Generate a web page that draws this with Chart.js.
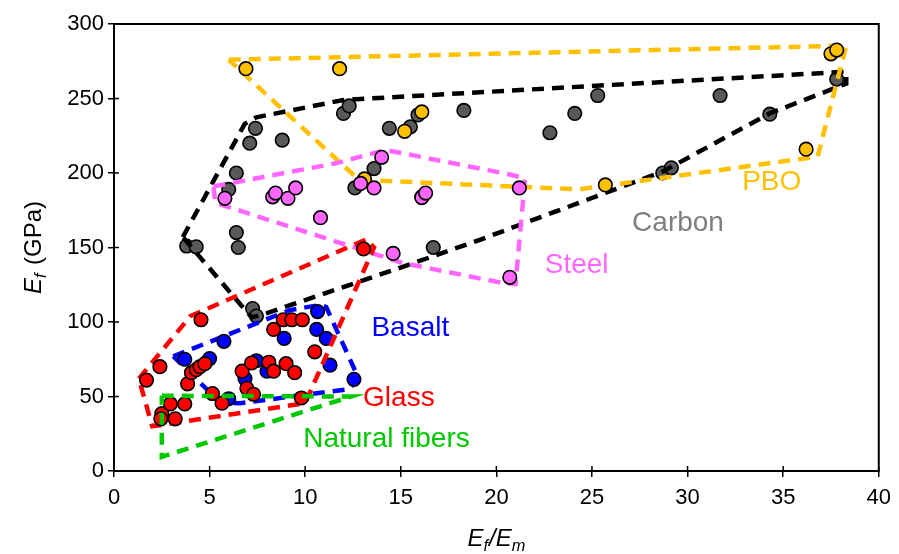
<!DOCTYPE html>
<html>
<head>
<meta charset="utf-8">
<script src="https://cdn.jsdelivr.net/npm/chart.js@4/dist/chart.umd.min.js"></script>
<style>
  html, body { margin: 0; padding: 0; background: #fff; }
</style>
</head>
<body>
<canvas id="chart" width="899" height="554"></canvas>
<script>
// measured points [Ef/Em, Ef]
const carbonPts = [[3.8,151],[4.3,150.5],[6.4,160],[6.5,150],[7.25,109],[7.45,104],[6.0,189],[6.4,200],[7.1,220],[7.4,230],[8.8,222],[12.0,240],[12.3,245],[12.6,190],[13.6,203],[14.4,230],[15.5,231],[15.9,239],[16.1,184],[16.7,150],[18.3,242],[22.8,227],[24.1,240],[25.3,252],[28.7,200],[29.15,203.5],[31.7,252],[34.3,239.5],[37.8,263]];
const pboPts = [[6.9,270],[11.8,270],[13.1,196],[15.2,228],[16.1,241],[25.7,192],[36.2,216],[37.5,280],[37.8,282.5]];
const steelPts = [[5.8,183],[8.3,184],[8.45,186.5],[9.1,183],[9.5,190],[10.8,170],[12.9,193],[13.6,190],[14.0,210.5],[16.1,183.5],[16.3,186.5],[14.6,146],[20.7,130],[21.2,190]];
const basaltPts = [[3.7,75],[5.0,75.5],[5.75,87],[6.0,48.5],[6.85,62],[7.45,74],[8.0,67],[8.9,89],[10.65,107],[10.6,95],[11.1,89],[11.3,71],[12.55,61.5]];
const glassPts = [[1.7,61],[2.4,70],[2.5,38.5],[2.45,35],[2.95,45],[3.7,45],[3.2,35],[3.85,58.5],[4.05,66],[4.3,68],[4.5,70],[4.75,72],[4.55,101.5],[5.15,52],[5.65,45.5],[6.7,67],[7.2,72.5],[6.95,55.5],[7.3,51.5],[8.1,73],[8.35,67],[9.0,72],[9.45,66],[9.8,49],[8.35,95],[8.85,101.5],[9.3,101.5],[9.85,101.5],[10.5,80],[13.05,149]];

// dashed outlines around each group
const carbonHull = [[3.6,157],[6.84,233],[7.45,237.4],[12,249],[38.3,268],[38.3,260],[34.3,240],[28.7,201],[19.1,155],[15.1,137],[8.0,106],[7.2,103],[3.6,157]];
const pboHull = [[6.0,276],[38.3,285.5],[36.8,211],[24.3,189],[12.8,195.5],[6.0,276]];
const steelHull = [[5.2,191],[11.6,206.5],[14.2,215.5],[20.7,199],[21.5,196.5],[21.0,125.5],[20.4,126],[15.1,139.6],[5.3,180],[5.2,191]];
const basaltHull = [[3.1,77],[9.2,108],[10.8,111.5],[11.1,110],[12.8,62],[12.3,55],[6.6,45.5],[5.6,46],[4.6,58],[3.1,77]];
const glassHull = [[1.3,62],[4.0,104],[13.2,155.5],[13.6,150],[10.0,45.5],[2.0,30],[1.3,62]];
const fiberHull = [[2.5,50.5],[12.4,50],[2.5,9.5],[2.5,50.5]];

// group labels inside the plot
const groupNames = ["Carbon", "PBO", "Steel", "Basalt", "Glass", "Natural fibers"];
const groupLabelX = [29.5, 34.4, 24.2, 15.5, 14.9, 14.25];
const groupLabelY = [166.5, 194, 138, 96, 49, 21];
const groupColors = ["#7f7f7f", "#ffc000", "#ff66ff", "#0000ff", "#ff0000", "#00c800"];

const toXY = (arr) => arr.map((p) => ({ x: p[0], y: p[1] }));

function pointSet(label, pts, fill, order) {
  return {
    type: "scatter",
    label: label,
    data: toXY(pts),
    backgroundColor: fill,
    borderColor: "#000",
    borderWidth: 1.6,
    pointRadius: 6.8,
    order: order,
  };
}

function hullSet(label, pts, color, order) {
  return {
    type: "line",
    label: label,
    data: toXY(pts),
    borderColor: color,
    borderWidth: 4.5,
    borderDash: [12, 8],
    pointRadius: 0,
    fill: false,
    tension: 0,
    order: order,
  };
}

const FONT = "'Liberation Sans', Arial, sans-serif";

function drawParts(ctx, parts, size) {
  let w = 0;
  for (const p of parts) {
    const fs = p.sub ? size * 0.68 : size;
    ctx.font = (p.italic ? "italic " : "") + fs + "px " + FONT;
    p.w = ctx.measureText(p.t).width + (p.gap || 0);
    w += p.w;
  }
  let cx = -w / 2;
  for (const p of parts) {
    const fs = p.sub ? size * 0.68 : size;
    ctx.font = (p.italic ? "italic " : "") + fs + "px " + FONT;
    ctx.fillText(p.t, cx, p.sub ? size * 0.22 : 0);
    cx += p.w;
  }
}

const decorations = {
  id: "decorations",
  afterDatasetsDraw(chart) {
    const { ctx, scales } = chart;
    ctx.save();
    ctx.textAlign = "center";
    ctx.textBaseline = "middle";
    ctx.font = "28px " + FONT;
    groupNames.forEach((name, i) => {
      ctx.fillStyle = groupColors[i];
      ctx.fillText(name, scales.x.getPixelForValue(groupLabelX[i]), scales.y.getPixelForValue(groupLabelY[i]));
    });
    ctx.restore();
  },
  afterDraw(chart) {
    const { ctx, chartArea: a, scales } = chart;
    ctx.save();
    ctx.strokeStyle = "#000";
    ctx.lineWidth = 2;
    ctx.strokeRect(a.left, a.top, a.right - a.left, a.bottom - a.top);

    // inner half of the crossing tick marks
    ctx.lineWidth = 1.5;
    ctx.beginPath();
    scales.x.ticks.forEach((t) => {
      const px = scales.x.getPixelForValue(t.value);
      ctx.moveTo(px, a.bottom);
      ctx.lineTo(px, a.bottom - 5);
    });
    scales.y.ticks.forEach((t) => {
      const py = scales.y.getPixelForValue(t.value);
      ctx.moveTo(a.left, py);
      ctx.lineTo(a.left + 5, py);
    });
    ctx.stroke();

    // axis titles with subscripts
    ctx.fillStyle = "#000";
    ctx.textAlign = "left";
    ctx.textBaseline = "alphabetic";
    ctx.save();
    ctx.translate((a.left + a.right) / 2, 546);
    drawParts(ctx, [
      { t: "E", italic: true },
      { t: "f", italic: true, sub: true, gap: 1 },
      { t: "/", italic: true },
      { t: "E", italic: true },
      { t: "m", italic: true, sub: true },
    ], 24);
    ctx.restore();

    ctx.save();
    ctx.translate(41, (a.top + a.bottom) / 2);
    ctx.rotate(-Math.PI / 2);
    drawParts(ctx, [
      { t: "E", italic: true },
      { t: "f", italic: true, sub: true, gap: 2 },
      { t: " (GPa)", italic: false },
    ], 24);
    ctx.restore();
    ctx.restore();
  },
};

new Chart(document.getElementById("chart"), {
  type: "scatter",
  data: {
    datasets: [
      pointSet("Carbon", carbonPts, "#595959", 11),
      hullSet("Carbon outline", carbonHull, "#000000", 10),
      hullSet("PBO outline", pboHull, "#ffc000", 9),
      pointSet("PBO", pboPts, "#ffc000", 8),
      hullSet("Steel outline", steelHull, "#ff66ff", 7),
      pointSet("Steel", steelPts, "#ff66ff", 6),
      hullSet("Basalt outline", basaltHull, "#0000ff", 5),
      pointSet("Basalt", basaltPts, "#0000ff", 4),
      hullSet("Glass outline", glassHull, "#ff0000", 3),
      pointSet("Glass", glassPts, "#ff0000", 2),
      hullSet("Natural fibers outline", fiberHull, "#00c800", 1),
    ],
  },
  options: {
    responsive: false,
    animation: false,
    layout: { padding: { top: 24, right: 19, left: 0, bottom: 0 } },
    plugins: { legend: { display: false }, tooltip: { enabled: false } },
    scales: {
      x: {
        type: "linear",
        min: 0,
        max: 40,
        ticks: { stepSize: 5, color: "#000", font: { family: FONT, size: 22 }, padding: 8 },
        grid: { drawOnChartArea: false, drawTicks: true, tickLength: 6, color: "#000", lineWidth: 1.5 },
        border: { display: true, color: "#000", width: 2 },
        afterFit: (scale) => { scale.height = 83; },
      },
      y: {
        type: "linear",
        min: 0,
        max: 300,
        ticks: { stepSize: 50, color: "#000", font: { family: FONT, size: 22 }, padding: 4 },
        grid: { drawOnChartArea: false, drawTicks: true, tickLength: 6, color: "#000", lineWidth: 1.5 },
        border: { display: true, color: "#000", width: 2 },
        afterFit: (scale) => { scale.width = 114; },
      },
    },
  },
  plugins: [decorations],
});
</script>
</body>
</html>
